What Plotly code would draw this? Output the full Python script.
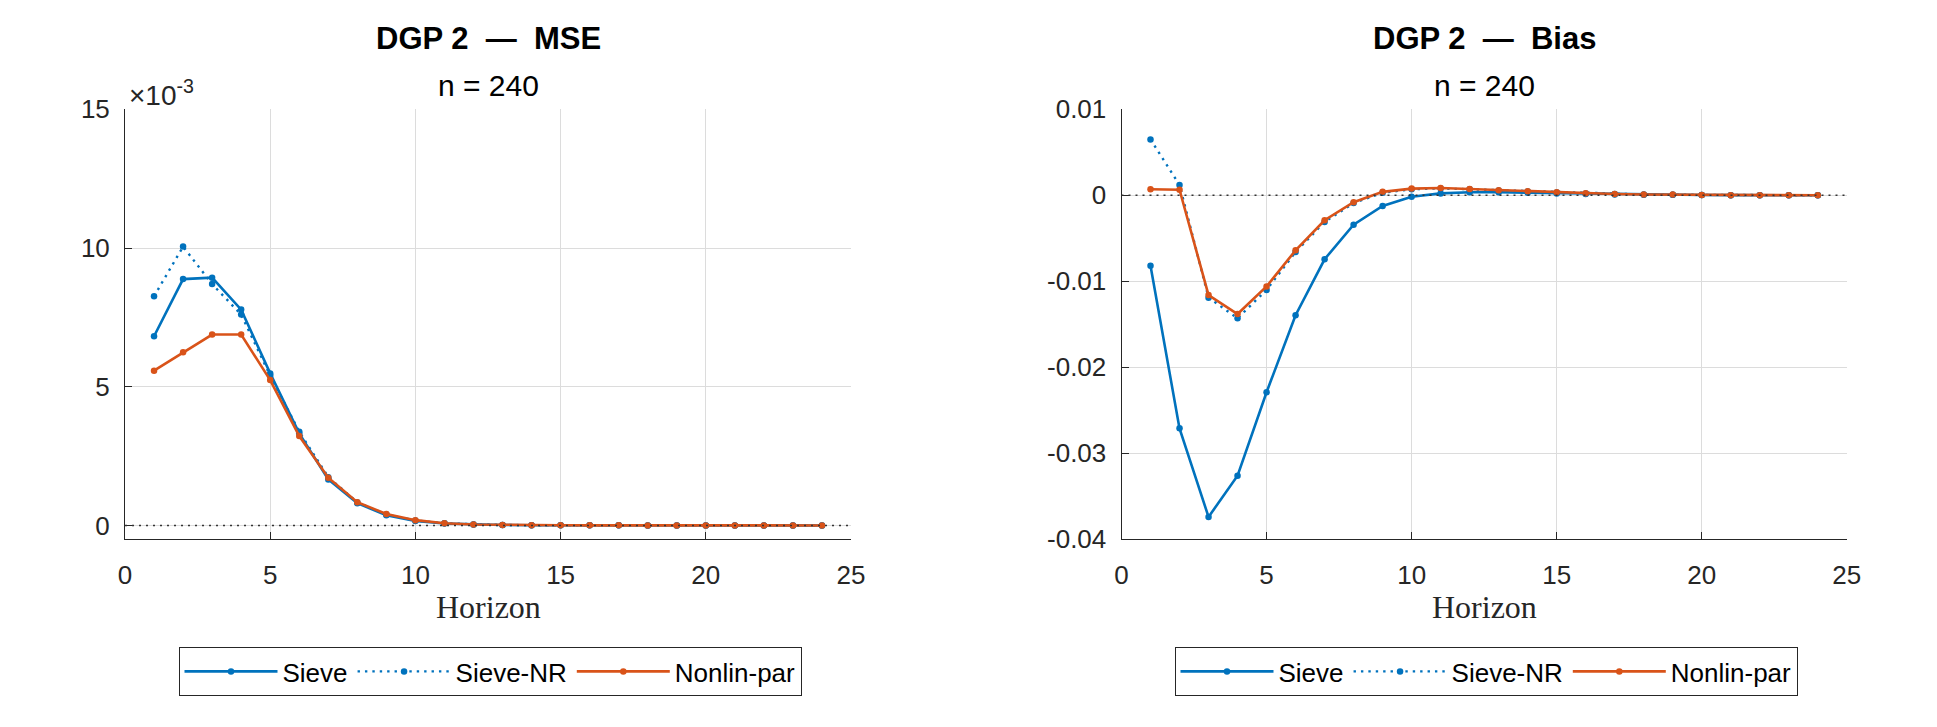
import plotly.graph_objects as go

# ---------------- data ----------------
horizon = list(range(1, 25))

# MSE (in units of 1e-3)
mse_sieve = [6.82, 8.88, 8.93, 7.78, 5.48, 3.32, 1.66, 0.80, 0.37, 0.16, 0.07, 0.03,
             0.015, 0.008, 0.005, 0.003, 0.002, 0.001, 0.001, 0.0, 0.0, 0.0, 0.0, 0.0]
mse_sieve_nr = [8.26, 10.05, 8.70, 7.60, 5.40, 3.38, 1.74, 0.83, 0.39, 0.18, 0.08, 0.035,
                0.017, 0.009, 0.005, 0.003, 0.002, 0.001, 0.001, 0.0, 0.0, 0.0, 0.0, 0.0]
mse_nonlin = [5.58, 6.24, 6.88, 6.88, 5.24, 3.22, 1.72, 0.84, 0.41, 0.19, 0.08, 0.035,
              0.017, 0.009, 0.005, 0.003, 0.002, 0.001, 0.001, 0.0, 0.0, 0.0, 0.0, 0.0]

# Bias
bias_sieve = [-0.0082, -0.0271, -0.0374, -0.0326, -0.0229, -0.01395, -0.00744, -0.00341,
              -0.00124, -0.00016, 0.00022, 0.00035, 0.00035, 0.00030, 0.00022, 0.00015,
              0.00010, 0.00007, 0.00005, 0.00003, 0.00002, 0.00001, 0.0, 0.0]
bias_sieve_nr = [0.0065, 0.0012, -0.0119, -0.0143, -0.0110, -0.0066, -0.0031, -0.0009,
                 0.0003, 0.0007, 0.0008, 0.0007, 0.00055, 0.00045, 0.00033, 0.00022,
                 0.00014, 0.00010, 0.00007, 0.00004, 0.00002, 0.00001, 0.0, 0.0]
bias_nonlin = [0.0007, 0.00065, -0.0116, -0.0138, -0.0106, -0.0064, -0.0029, -0.0008,
               0.0004, 0.00078, 0.00085, 0.00074, 0.00058, 0.00047, 0.00035, 0.00023,
               0.00015, 0.00010, 0.00008, 0.00004, 0.00002, 0.00001, 0.0, 0.0]

series_names = ["Sieve", "Sieve-NR", "Nonlin-par"]
x_ticks = [0, 5, 10, 15, 20, 25]
mse_ticks = [0, 5, 10, 15]
bias_ticks = [-0.04, -0.03, -0.02, -0.01, 0, 0.01]
bias_ticktext = ["-0.04", "-0.03", "-0.02", "-0.01", "0", "0.01"]

# ---------------- style ----------------
BLUE = "#0072BD"
ORANGE = "#D95319"
AX = "#262626"
GRID = "#dcdcdc"
SANS = "Liberation Sans, Arial, Helvetica, sans-serif"
SERIF = "Liberation Serif, Times New Roman, serif"
W, H = 1937, 727

fig = go.Figure()

def add_series(x, y, name, color, dash, xa, ya, legend):
    fig.add_trace(go.Scatter(
        x=x, y=y, name=name, mode="lines+markers",
        line=dict(color=color, width=2.6 if dash == "solid" else 2.4, dash=dash),
        marker=dict(color=color, size=6.5),
        xaxis=xa, yaxis=ya, legend=legend, hoverinfo="skip"))

styles = [(BLUE, "solid"), (BLUE, "2.4px,5px"), (ORANGE, "solid")]
for data, (c, d), nm in zip([mse_sieve, mse_sieve_nr, mse_nonlin], styles, series_names):
    add_series(horizon, data, nm, c, d, "x", "y", "legend")
for data, (c, d), nm in zip([bias_sieve, bias_sieve_nr, bias_nonlin], styles, series_names):
    add_series(horizon, data, nm, c, d, "x2", "y2", "legend2")

dom_y = [(H - 539.3) / H, (H - 109.3) / H]
dom_x1 = [125 / W, 851 / W]
dom_x2 = [1121.5 / W, 1846.8 / W]

axis_common = dict(showline=True, linecolor=AX, linewidth=1, ticks="inside", ticklen=7,
                   tickcolor=AX, tickwidth=1, showgrid=True, gridcolor=GRID, gridwidth=1,
                   zeroline=False, mirror=False, automargin=False,
                   tickfont=dict(family=SANS, size=26, color=AX))

fig.update_layout(
    xaxis=dict(domain=dom_x1, range=[0, 25], tickvals=x_ticks, anchor="y",
               ticklabelstandoff=12, **axis_common),
    yaxis=dict(domain=dom_y, range=[-0.5, 15], tickvals=mse_ticks, anchor="x",
               ticklabelstandoff=9, **axis_common),
    xaxis2=dict(domain=dom_x2, range=[0, 25], tickvals=x_ticks, anchor="y2",
                ticklabelstandoff=12, **axis_common),
    yaxis2=dict(domain=dom_y, range=[-0.04, 0.01], tickvals=bias_ticks,
                ticktext=bias_ticktext, anchor="x2", ticklabelstandoff=9, **axis_common),
)

# zero reference lines
for xr, yr in [("x domain", "y"), ("x2 domain", "y2")]:
    fig.add_shape(type="line", xref=xr, yref=yr, x0=0, x1=1, y0=0, y1=0,
                  line=dict(color="#333333", width=1.4, dash="2px,5px"), layer="above")

# titles
for cx, ttl in [((125 + 851) / 2 / W, "MSE"), ((1121.5 + 1846.8) / 2 / W, "Bias")]:
    fig.add_annotation(text="<b>DGP 2\u00a0 \u2014\u00a0 " + ttl + "</b>", x=cx, y=(H - 38) / H,
                       xref="paper", yref="paper", showarrow=False, xanchor="center",
                       yanchor="middle", font=dict(family=SANS, size=31, color="black"))
    fig.add_annotation(text="n = 240", x=cx, y=(H - 85) / H,
                       xref="paper", yref="paper", showarrow=False, xanchor="center",
                       yanchor="middle", font=dict(family=SANS, size=30, color="black"))
    fig.add_annotation(text="Horizon", x=cx, y=(H - 607) / H,
                       xref="paper", yref="paper", showarrow=False, xanchor="center",
                       yanchor="middle", font=dict(family=SERIF, size=32, color=AX))

# exponent label
fig.add_annotation(text="\u00d710<sup>-3</sup>", x=127 / W, y=(H - 93) / H, xref="paper",
                   yref="paper", showarrow=False, xanchor="left", yanchor="middle",
                   font=dict(family=SANS, size=28, color=AX))

legend_common = dict(orientation="h", yanchor="middle", y=(H - 671.5) / H,
                     xanchor="center", bgcolor="white", bordercolor=AX, borderwidth=1,
                     font=dict(family=SANS, size=26, color="black"),
                     itemwidth=93, tracegroupgap=0)

fig.update_layout(
    width=W, height=H, autosize=False,
    margin=dict(l=0, r=0, t=0, b=0, autoexpand=False),
    paper_bgcolor="white", plot_bgcolor="white",
    showlegend=True, hovermode=False,
    legend=dict(x=490 / W, **legend_common),
    legend2=dict(x=1486 / W, **legend_common),
)

fig.write_html("out.html", config={"displayModeBar": False},
               post_script="document.body.style.margin='0px';")
